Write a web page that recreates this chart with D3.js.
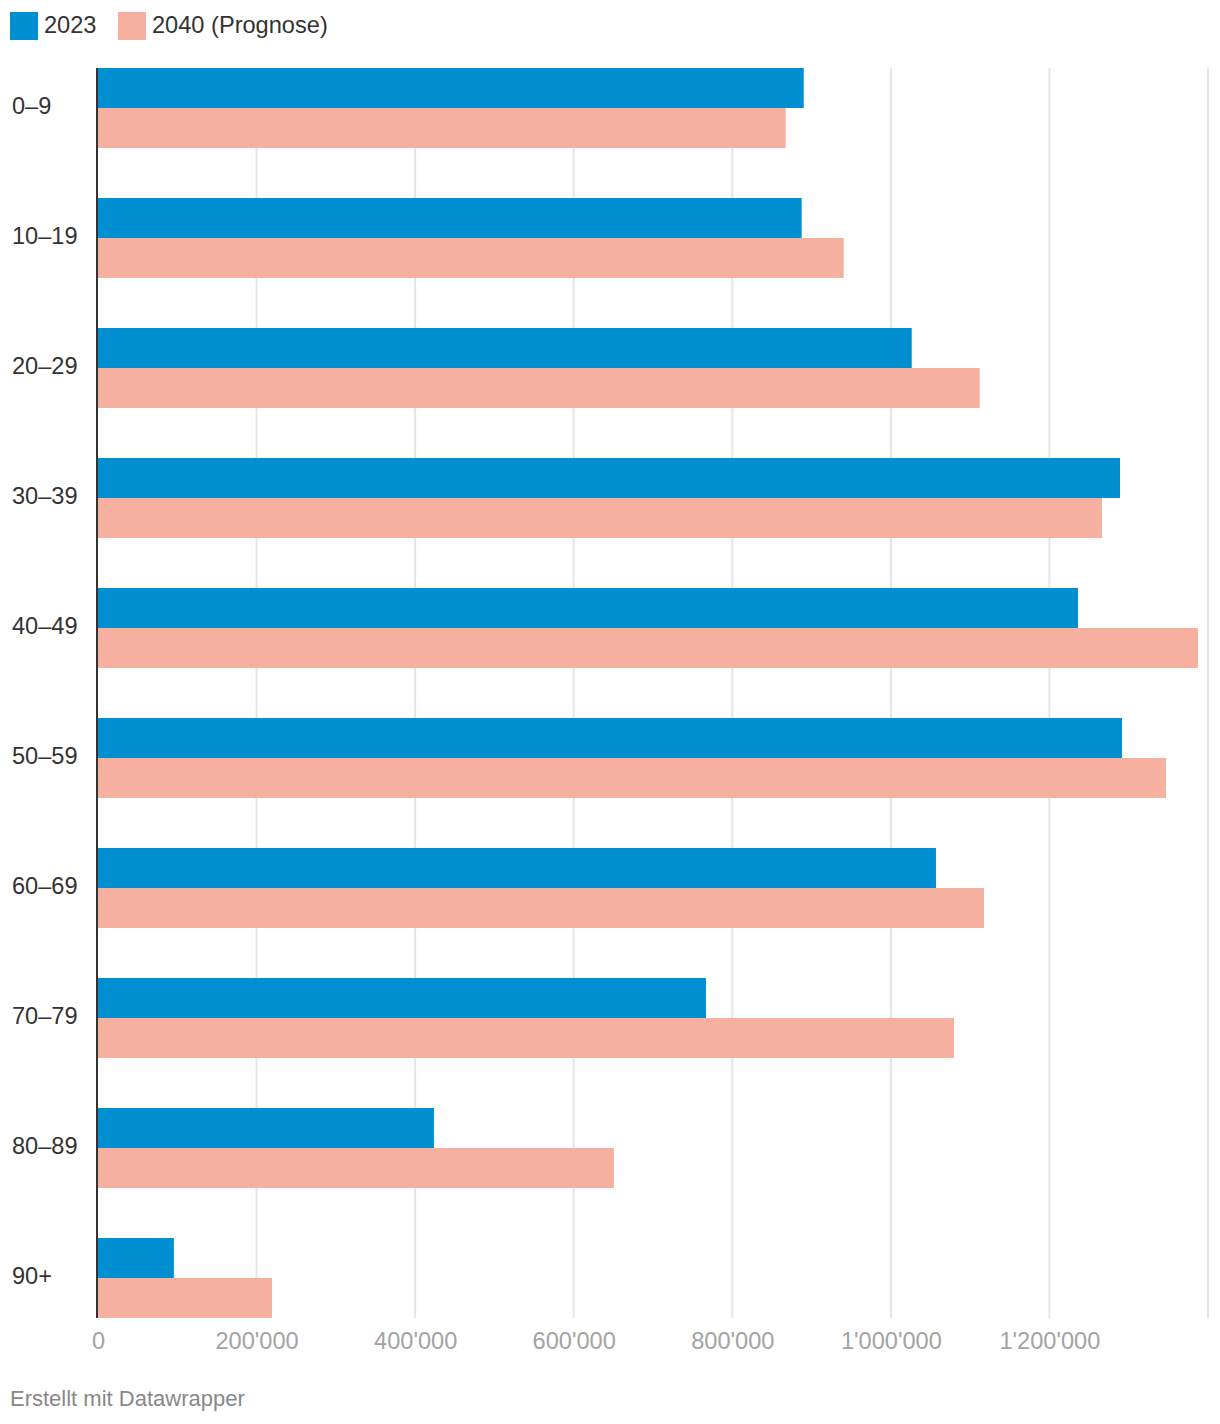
<!DOCTYPE html>
<html>
<head>
<meta charset="utf-8">
<script src="https://cdn.jsdelivr.net/npm/d3@7"></script>
<style>
  html, body { margin: 0; padding: 0; background: #fff; }
  svg { display: block; font-family: "Liberation Sans", Arial, Helvetica, sans-serif; }
</style>
</head>
<body>
<svg id="chart" width="1220" height="1424"></svg>
<script>
const categories = ["0–9", "10–19", "20–29", "30–39", "40–49", "50–59", "60–69", "70–79", "80–89", "90+"];
const seriesNames = ["2023", "2040 (Prognose)"];
const values2023 = [890100, 887500, 1026300, 1289000, 1236000, 1291500, 1056900, 766800, 423700, 95700];
const values2040 = [867400, 940500, 1112000, 1266300, 1387400, 1347000, 1117500, 1079600, 650700, 219500];
const tickValues = [0, 200000, 400000, 600000, 800000, 1000000, 1200000, 1400000];
const tickLabels = ["0", "200'000", "400'000", "600'000", "800'000", "1'000'000", "1'200'000", ""];
const colors = ["#008fd0", "#f5b09f"];

(function () {
const svg = d3.select("#chart");
const mLeft = 98, mRight = 1208, mTop = 68, mBottom = 1318;
const groupGap = 50;

const x = d3.scaleLinear().domain([0, 1400000]).range([mLeft, mRight]);
const y = d3.scaleBand().domain(categories).range([mTop, mBottom + groupGap]).paddingInner(0).paddingOuter(0);
const barH = (y.bandwidth() - groupGap) / 2;
const ySub = d3.scaleBand().domain(seriesNames).range([0, barH * 2]);

// gridlines
svg.append("g").selectAll("line").data(tickValues.slice(1)).join("line")
  .attr("x1", d => x(d)).attr("x2", d => x(d))
  .attr("y1", mTop).attr("y2", mBottom)
  .attr("stroke", "#e5e5e5").attr("stroke-width", 2);

// bars
const rows = categories.map((c, i) => ({ c, v: [values2023[i], values2040[i]] }));
const g = svg.append("g").selectAll("g").data(rows).join("g")
  .attr("transform", d => `translate(0,${y(d.c)})`);
g.selectAll("rect").data(d => d.v.map((v, k) => ({ v, k }))).join("rect")
  .attr("x", x(0))
  .attr("y", d => ySub(seriesNames[d.k]))
  .attr("width", d => x(d.v) - x(0))
  .attr("height", ySub.bandwidth())
  .attr("fill", d => colors[d.k]);

// category labels
svg.append("g").selectAll("text").data(categories).join("text")
  .attr("x", 12)
  .attr("y", d => y(d) + barH - 2)
  .attr("dy", "0.35em")
  .attr("fill", "#333")
  .attr("font-size", 23.6)
  .text(d => d);

// axis line
svg.append("line")
  .attr("x1", x(0) - 1).attr("x2", x(0) - 1)
  .attr("y1", mTop).attr("y2", mBottom)
  .attr("stroke", "#333").attr("stroke-width", 2);

// x axis tick labels
const xAxis = d3.axisBottom(x).tickValues(tickValues).tickSize(0)
  .tickFormat((d, i) => tickLabels[i]);
const ax = svg.append("g").attr("transform", `translate(0,${mBottom + 11})`).call(xAxis);
ax.select(".domain").remove();
ax.selectAll("text")
  .attr("fill", "#a3a3a3")
  .attr("font-size", 23.6)
  .attr("font-family", "'Liberation Sans', Arial, sans-serif");

// legend
const legend = svg.append("g");
const legendX = [10, 118];
seriesNames.forEach((s, i) => {
  legend.append("rect").attr("x", legendX[i]).attr("y", 12).attr("width", 28).attr("height", 28).attr("fill", colors[i]);
  legend.append("text").attr("x", legendX[i] + 34).attr("y", 24.5).attr("dy", "0.35em")
    .attr("fill", "#333").attr("font-size", 23.6).text(s);
});

// footer
svg.append("text").attr("x", 10).attr("y", 1398).attr("dy", "0.35em")
  .attr("fill", "#888").attr("font-size", 22).text("Erstellt mit Datawrapper");
})();
</script>
</body>
</html>
